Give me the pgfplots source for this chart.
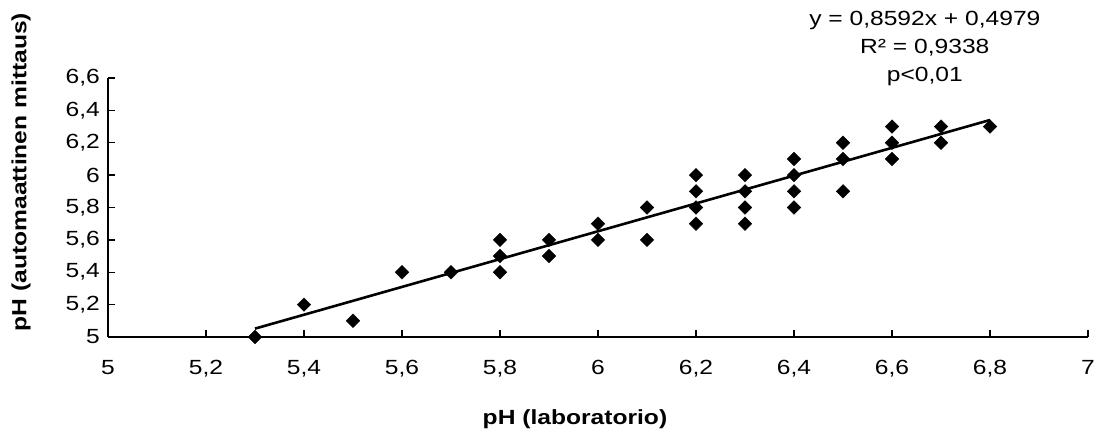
\documentclass[border=0pt]{standalone}
\usepackage{fontspec}
\setmainfont{Liberation Sans}[FakeStretch=1.2]
\usepackage{pgfplots}
\pgfplotsset{compat=1.18}
\begin{document}
\begin{tikzpicture}
\path[use as bounding box] (-108pt,-95pt) rectangle (1000pt,337pt);
\begin{axis}[
  at={(0pt,0pt)}, anchor=south west,
  scale only axis, width=980pt, height=259pt,
  xmin=5, xmax=7, ymin=5, ymax=6.6,
  axis lines*=left,
  axis line style={line width=1.3pt, black},
  every tick/.style={line width=1.3pt, black},
  tick align=inside,
  major tick length=7pt,
  xtick={5,5.2,5.4,5.6,5.8,6,6.2,6.4,6.6,6.8,7},
  xticklabels={5,{5,2},{5,4},{5,6},{5,8},6,{6,2},{6,4},{6,6},{6,8},7},
  ytick={5,5.2,5.4,5.6,5.8,6,6.2,6.4,6.6},
  yticklabels={5,{5,2},{5,4},{5,6},{5,8},6,{6,2},{6,4},{6,6}},
  xticklabel style={font=\fontsize{20.5}{24}\selectfont, inner sep=0pt, anchor=north, yshift=-23pt},
  yticklabel style={font=\fontsize{20.5}{24}\selectfont, inner sep=0pt, anchor=east, xshift=-8pt},
  xlabel={pH (laboratorio)},
  ylabel={pH (automaattinen mittaus)},
  xlabel style={font=\fontsize{20.5}{24}\selectfont\bfseries, at={(axis description cs:0.4765,-0.3166)}, anchor=center},
  ylabel style={font=\fontsize{20.5}{24}\selectfont\bfseries, at={(axis description cs:-0.0888,0.637)}, anchor=center},
  clip=false,
]
\addplot[only marks, mark=square*, mark size=4.8pt, mark options={rotate=45, fill=black, draw=black}] coordinates {
(5.3,5.0)(5.4,5.2)(5.5,5.1)(5.6,5.4)(5.7,5.4)
(5.8,5.6)(5.8,5.5)(5.8,5.4)(5.9,5.6)(5.9,5.5)
(6.0,5.7)(6.0,5.6)(6.1,5.8)(6.1,5.6)
(6.2,6.0)(6.2,5.9)(6.2,5.8)(6.2,5.7)
(6.3,6.0)(6.3,5.9)(6.3,5.8)(6.3,5.7)
(6.4,6.1)(6.4,6.0)(6.4,5.9)(6.4,5.8)
(6.5,6.2)(6.5,6.1)(6.5,5.9)
(6.6,6.3)(6.6,6.2)(6.6,6.1)
(6.7,6.3)(6.7,6.2)(6.8,6.3)
};
\addplot[black, line width=2.6pt] coordinates {(5.3,5.0517)(6.8,6.3405)};
\node[font=\fontsize{20.5}{24}\selectfont] at (axis cs:6.667,6.958) {y = 0,8592x + 0,4979};
\node[font=\fontsize{20.5}{24}\selectfont] at (axis cs:6.667,6.79) {R² = 0,9338};
\node[font=\fontsize{20.5}{24}\selectfont] at (axis cs:6.667,6.612) {p<0,01};
\end{axis}
\end{tikzpicture}
\end{document}
